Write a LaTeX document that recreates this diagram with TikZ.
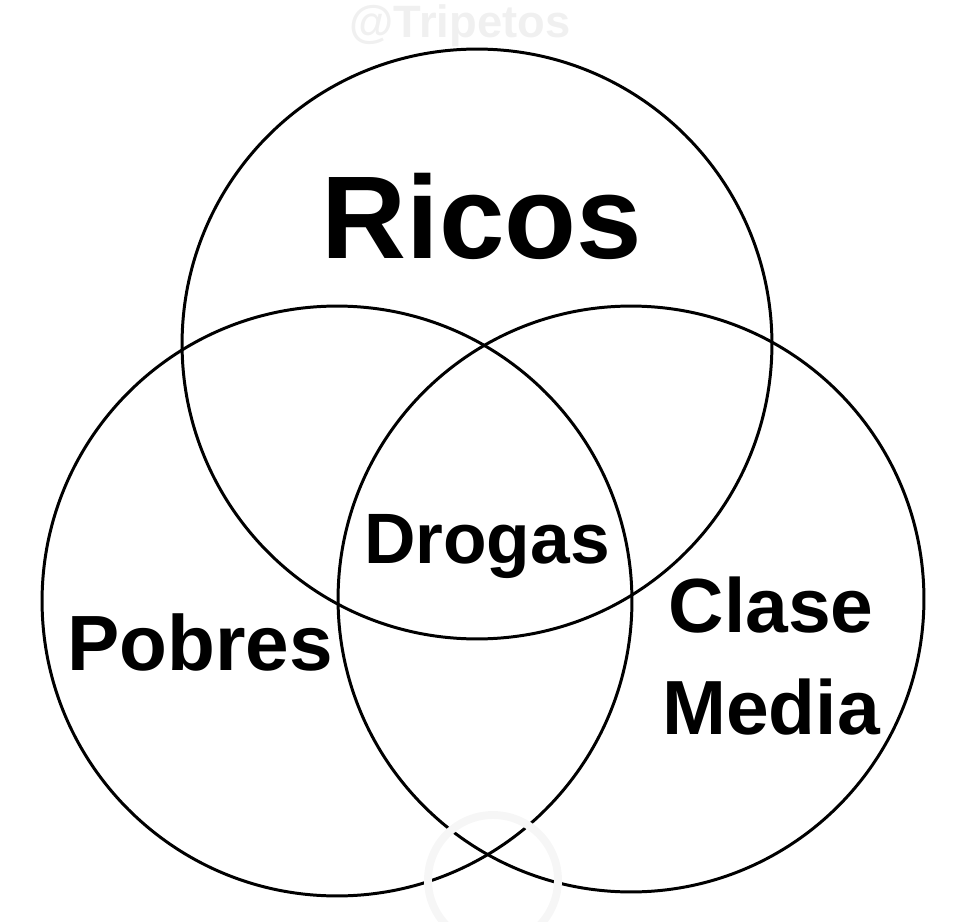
\documentclass[tikz,border=0pt]{standalone}
\usepackage{fontspec}
\setmainfont{Liberation Sans}
\usetikzlibrary{positioning}

\begin{document}
\begin{tikzpicture}[x=0.02cm, y=-0.02cm,
    ring/.style={line width=1.7pt, draw=black},
    setname/.style={font=\bfseries, text=black, inner sep=0pt, anchor=base},
    wmark/.style={font=\bfseries\fontsize{25.8}{30}\selectfont, text=gray!12,
                 inner sep=0pt, anchor=base},
]
\useasboundingbox (0,0) rectangle (960,922);
% the three sets
\draw[ring] (477,344) circle[radius=5.9cm];
\draw[ring] (337,601) circle[radius=5.9cm];
\draw[ring] (631,599) circle[radius=5.86cm];
% faint logo at the bottom
\draw[line width=4.5pt, gray!7] (493,880) circle[radius=1.3cm];
\node[setname, font=\bfseries\fontsize{67}{80}\selectfont] (ricos) at (482,258) {Ricos};
\node[setname, font=\bfseries\fontsize{40.6}{48}\selectfont] (drogas) at (487,563) {Drogas};
\node[setname, font=\bfseries\fontsize{44.6}{53}\selectfont] (pobres) at (200,670) {Pobres};
\node[setname, anchor=center, align=center,
      font=\bfseries\fontsize{43.7}{57.8}\selectfont] (media) at (771,656) {Clase\\Media};
\node[wmark] (tag) at (460,38) {@Tripetos};
\end{tikzpicture}
\end{document}
